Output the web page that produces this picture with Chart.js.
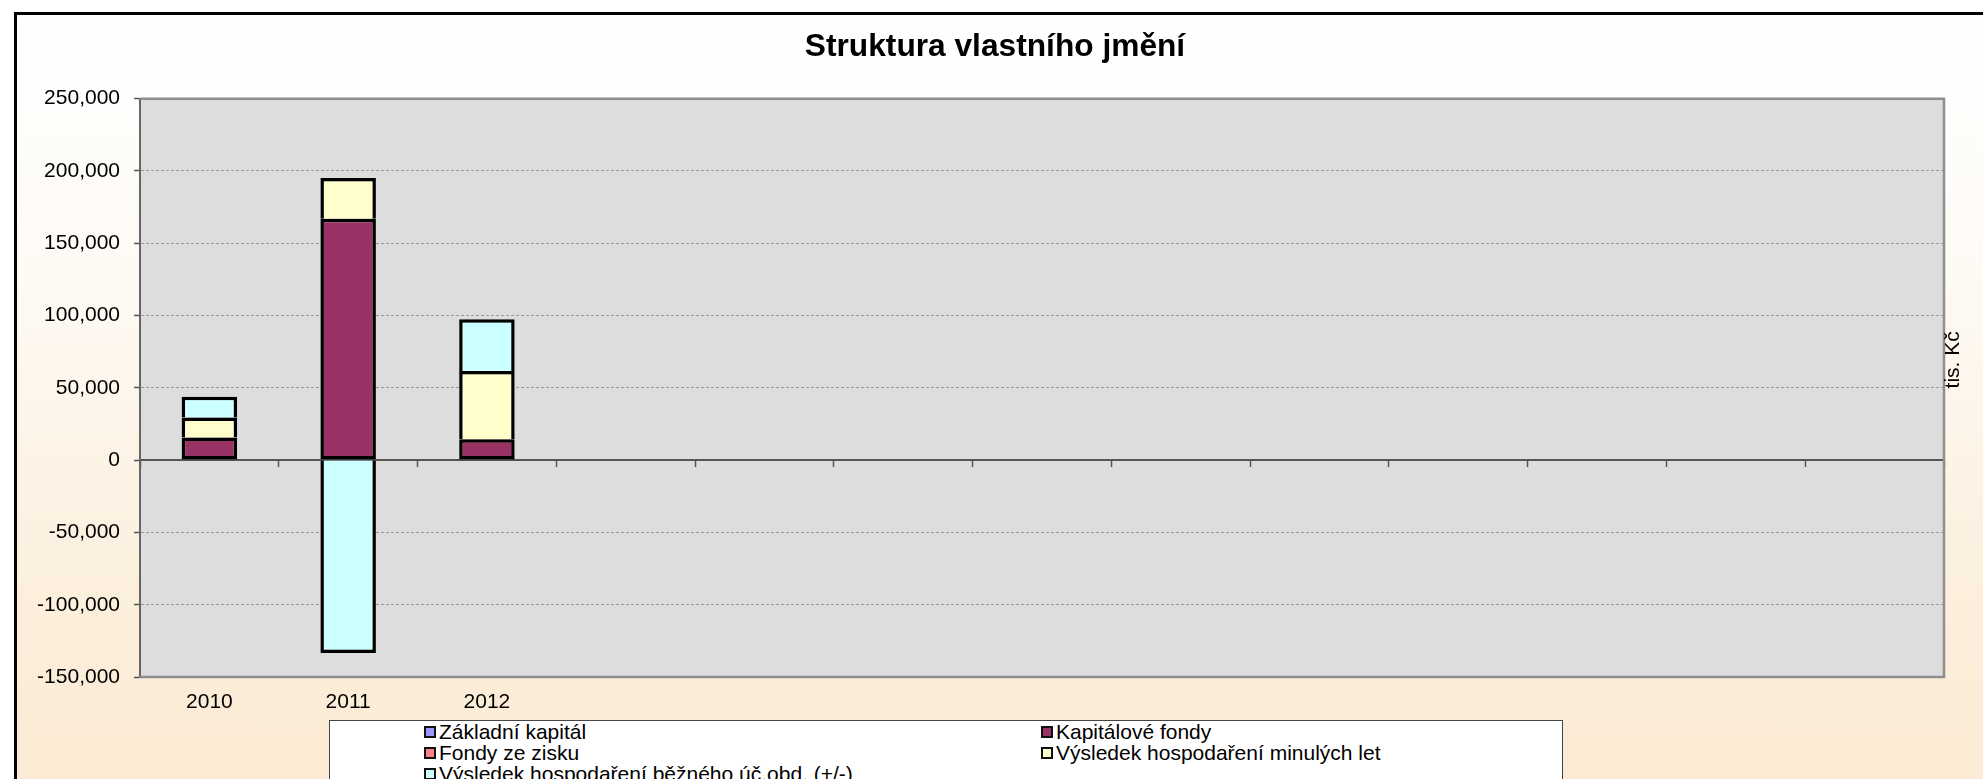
<!DOCTYPE html>
<html><head><meta charset="utf-8">
<script src="https://cdn.jsdelivr.net/npm/chart.js@4.4.1/dist/chart.umd.min.js"></script>
<style>
html,body{margin:0;padding:0;width:1983px;height:779px;overflow:hidden;background:#fff;font-family:"Liberation Sans",Arial,sans-serif;}
#frame{position:absolute;left:14px;top:12px;width:1980px;height:780px;border-left:3px solid #000;border-top:3px solid #000;background:linear-gradient(to bottom,#ffffff 0%,#fefbf6 30%,#fcefdc 75%,#fbead3 100%);}
#c{position:absolute;left:0;top:0;}
#legend{position:absolute;left:329px;top:720px;width:1234px;height:120px;box-sizing:border-box;border:1px solid #444;background:#fff;display:grid;grid-template-columns:617px 617px;grid-auto-rows:21px;align-content:start;}
.item{padding-left:94px;display:flex;align-items:center;font-size:21px;line-height:21px;color:#000;white-space:nowrap;}
.sw{width:12px;height:12px;box-sizing:border-box;border:2px solid #111;margin-right:3px;flex:none;}
</style></head>
<body>
<div id="frame"></div>
<canvas id="c" width="1983" height="779"></canvas>
<div id="legend"></div>
<script>
// ---- data ----
const titleText = 'Struktura vlastního jmění';
const unitLabel = 'tis. Kč';
const categories = ['2010','2011','2012','','','','','','','','','',''];
const seriesNames = ['Základní kapitál','Kapitálové fondy','Fondy ze zisku','Výsledek hospodaření minulých let','Výsledek hospodaření běžného úč.obd. (+/-)'];
const seriesColors = ['#9999FF','#993366','#FF8080','#FFFFCC','#CCFFFF'];
const zakladniKapital = [0, 0, 0];
const kapitaloveFondy = [15700, 166900, 14500];
const fondyZeZisku = [0, 0, 0];
const vhMinulychLet = [13800, 28200, 47100];
const vhBeznehoObdobi = [14300, -133400, 35800];
const yMin = -150000, yMax = 250000, yStep = 50000;

const F = '"Liberation Sans", Arial, sans-serif';
Chart.defaults.font.family = F;

const seriesData = [zakladniKapital, kapitaloveFondy, fondyZeZisku, vhMinulychLet, vhBeznehoObdobi];
const datasets = seriesNames.map((n, i) => ({
  label: n,
  data: seriesData[i],
  backgroundColor: seriesColors[i],
  borderColor: '#000',
  borderWidth: 3.5,
  borderSkipped: i === 1 ? false : 'start',
  barPercentage: 0.4,
  categoryPercentage: 1.0
}));

const plotDeco = {
  id: 'plotDeco',
  beforeDraw(chart) {
    const {ctx, chartArea: a} = chart;
    ctx.save();
    ctx.fillStyle = '#dddddd';
    ctx.fillRect(a.left, a.top, a.right - a.left, a.bottom - a.top);
    ctx.restore();
  },
  afterDraw(chart) {
    const {ctx, chartArea: a} = chart;
    ctx.save();
    ctx.strokeStyle = '#8e8e8e';
    ctx.lineWidth = 2.5;
    ctx.beginPath();
    ctx.moveTo(a.left, a.top);
    ctx.lineTo(a.right, a.top);
    ctx.lineTo(a.right, a.bottom);
    ctx.lineTo(a.left, a.bottom);
    ctx.stroke();
    ctx.translate(a.right + 9, a.top + (a.bottom - a.top) * 0.4516);
    ctx.rotate(-Math.PI / 2);
    ctx.font = '21px ' + F;
    ctx.fillStyle = '#000';
    ctx.textAlign = 'center';
    ctx.textBaseline = 'middle';
    ctx.fillText(unitLabel, 0, 0);
    ctx.restore();
  }
};

const chart = new Chart(document.getElementById('c'), {
  type: 'bar',
  data: { labels: categories, datasets },
  options: {
    responsive: false,
    devicePixelRatio: 1,
    animation: false,
    layout: { padding: { left: 7, right: 0, top: 0, bottom: 0 } },
    plugins: {
      legend: { display: false },
      tooltip: { enabled: false },
      title: {
        display: true, text: titleText, color: '#000',
        font: { size: 31.7, weight: 'bold', family: F },
        padding: { top: 28.7, bottom: 31.9 }
      }
    },
    scales: {
      x: {
        stacked: true, offset: true,
        grid: { display: false, drawTicks: false },
        border: { display: false },
        ticks: { color: '#000', font: { size: 21 }, padding: 13, autoSkip: false, maxRotation: 0 },
        afterFit(s) { s.height = 102; }
      },
      x2: {
        type: 'category', position: { y: 0 }, offset: true,
        grid: { display: true, offset: true, drawOnChartArea: false, drawTicks: true, tickLength: 6, tickColor: '#555', tickWidth: 1.5 },
        border: { display: true, color: '#555', width: 2 },
        ticks: { display: false }
      },
      y: {
        stacked: true, min: yMin, max: yMax,
        ticks: { stepSize: yStep, color: '#000', font: { size: 21 }, padding: 14,
                 callback: v => Number(v).toLocaleString('en-US') },
        grid: { color: '#9a9a9a', lineWidth: 1, tickColor: '#555', tickLength: 6, tickWidth: 1.5, tickBorderDash: [] },
        border: { display: true, color: '#666', width: 2, dash: [3, 2] },
        afterFit(s) { s.width = 133; }
      },
      y2: {
        position: 'right', display: true,
        grid: { display: false, drawOnChartArea: false, drawTicks: false },
        border: { display: false },
        ticks: { display: false },
        afterFit(s) { s.width = 39; }
      }
    }
  },
  plugins: [plotDeco]
});

// HTML legend built from the chart's datasets
const leg = document.getElementById('legend');
chart.data.datasets.forEach(ds => {
  const it = document.createElement('div');
  it.className = 'item';
  const sw = document.createElement('span');
  sw.className = 'sw';
  sw.style.background = ds.backgroundColor;
  const tx = document.createElement('span');
  tx.textContent = ds.label;
  it.appendChild(sw); it.appendChild(tx);
  leg.appendChild(it);
});
</script>
</body></html>
